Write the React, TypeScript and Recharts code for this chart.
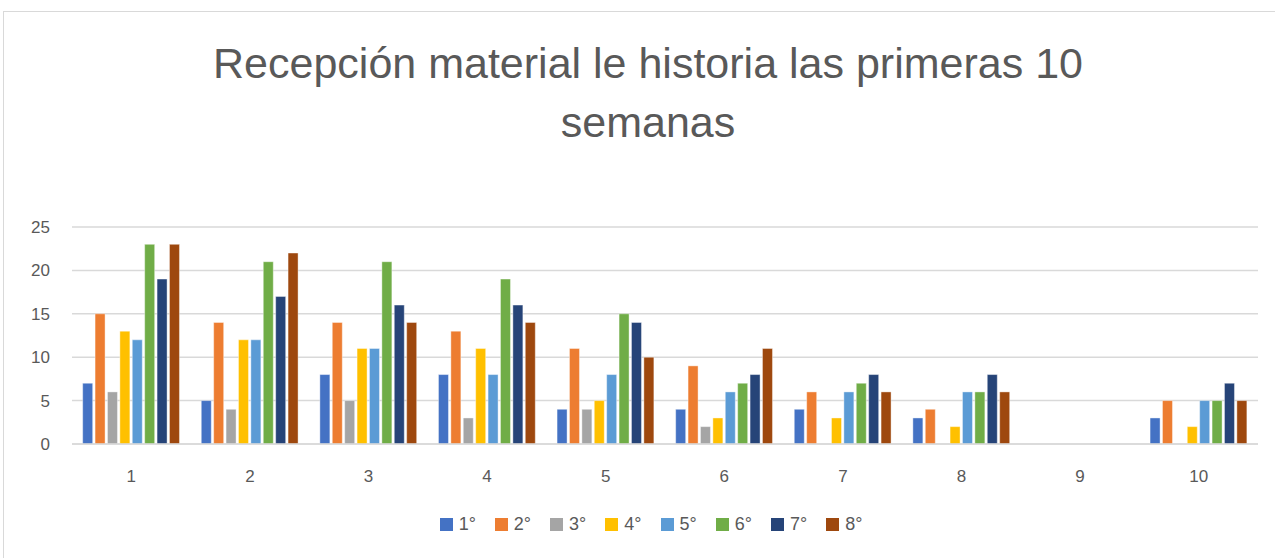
import { BarChart, Bar, XAxis, YAxis, CartesianGrid, Legend } from 'recharts';

const weeks = ['1', '2', '3', '4', '5', '6', '7', '8', '9', '10'];

const g1 = [7, 5, 8, 8, 4, 4, 4, 3, null, 3];
const g2 = [15, 14, 14, 13, 11, 9, 6, 4, null, 5];
const g3 = [6, 4, 5, 3, 4, 2, null, null, null, null];
const g4 = [13, 12, 11, 11, 5, 3, 3, 2, null, 2];
const g5 = [12, 12, 11, 8, 8, 6, 6, 6, null, 5];
const g6 = [23, 21, 21, 19, 15, 7, 7, 6, null, 5];
const g7 = [19, 17, 16, 16, 14, 8, 8, 8, null, 7];
const g8 = [23, 22, 14, 14, 10, 11, 6, 6, null, 5];

const seriesNames = ['1°', '2°', '3°', '4°', '5°', '6°', '7°', '8°'];
const seriesValues = [g1, g2, g3, g4, g5, g6, g7, g8];
const COLORS = ['#4472C4', '#ED7D31', '#A5A5A5', '#FFC000', '#5B9BD5', '#70AD47', '#264478', '#9E480E'];

const yTicks = [0, 5, 10, 15, 20, 25];

const data = weeks.map((w, i) => {
  const row: Record<string, string | number | null> = { week: w };
  seriesNames.forEach((name, s) => {
    row[name] = seriesValues[s][i];
  });
  return row;
});

const FONT = '"Liberation Sans", Arial, sans-serif';
const TEXT = '#595959';

const renderLegend = () => (
  <div style={{ display: 'flex', justifyContent: 'center', fontFamily: FONT, fontSize: 18, color: TEXT }}>
    {seriesNames.map((name, i) => (
      <div
        key={name}
        style={{ display: 'flex', alignItems: 'center', marginRight: i < seriesNames.length - 1 ? 19 : 0 }}
      >
        <span style={{ display: 'inline-block', width: 13, height: 13, background: COLORS[i], marginRight: 6 }} />
        <span>{name}</span>
      </div>
    ))}
  </div>
);

export default function App() {
  return (
    <div style={{ position: 'absolute', left: 0, top: 0, width: 1275, height: 558, background: '#fff', overflow: 'hidden' }}>
      <div style={{ position: 'absolute', left: 3, top: 11, width: 1300, height: 600, border: '1px solid #d9d9d9' }} />
      <div
        style={{
          position: 'absolute',
          left: 0,
          top: 34,
          width: 1296,
          textAlign: 'center',
          fontFamily: FONT,
          fontSize: 43,
          lineHeight: '59px',
          color: TEXT,
        }}
      >
        Recepción material le historia las primeras 10
        <br />
        semanas
      </div>
      <div style={{ position: 'absolute', left: 0, top: 0 }}>
        <BarChart
          width={1275}
          height={558}
          data={data}
          margin={{ top: 227, right: 17, bottom: 0, left: 0 }}
          barGap={2.4}
          barCategoryGap="9%"
        >
          <CartesianGrid vertical={false} stroke="#d9d9d9" strokeWidth={1.5} />
          <XAxis
            dataKey="week"
            tickLine={false}
            axisLine={{ stroke: '#d9d9d9', strokeWidth: 1.5 }}
            tick={{ fill: TEXT, fontSize: 17, fontFamily: FONT }}
            tickMargin={20}
            height={93}
          />
          <YAxis
            width={72}
            domain={[0, 25]}
            ticks={yTicks}
            tickLine={false}
            axisLine={false}
            tick={{ fill: TEXT, fontSize: 17, fontFamily: FONT }}
            tickMargin={16}
          />
          <Legend
            verticalAlign="bottom"
            content={renderLegend}
            wrapperStyle={{ position: 'absolute', top: 514, left: 0, width: 1302 }}
          />
          {seriesNames.map((name, i) => (
            <Bar
              key={name}
              dataKey={name}
              fill={COLORS[i]}
              stroke="#ffffff"
              strokeOpacity={0.5}
              strokeWidth={0.8}
              isAnimationActive={false}
            />
          ))}
        </BarChart>
      </div>
    </div>
  );
}
